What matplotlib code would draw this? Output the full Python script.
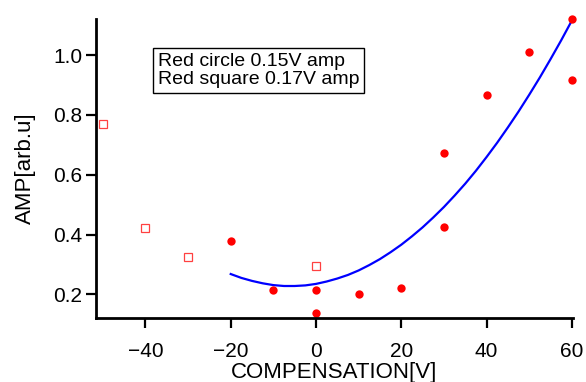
import numpy as np
import matplotlib
matplotlib.use('Agg')
import matplotlib.pyplot as plt

plt.rcParams['font.family'] = ['Liberation Sans', 'DejaVu Sans']

# open squares (0.17V amp)
sq_x = [-50, -40, -30, 0]
sq_y = [0.771, 0.422, 0.325, 0.295]

# filled circles (0.15V amp)
circ_x = [-20, -10, 0, 0, 10, 20, 30, 30, 40, 50, 60, 60]
circ_y = [0.378, 0.216, 0.216, 0.139, 0.200, 0.221, 0.425, 0.672, 0.865, 1.009, 1.120, 0.916]

# blue fit curve
fit_x = [-20, -17.5, -15, -12.5, -10, -7.5, -5, -2.5, 0, 2.5, 5, 7.5, 10, 12.5,
         15, 17.5, 20, 22.5, 25, 27.5, 30, 32.5, 35, 37.5, 40, 42.5, 45, 47.5,
         50, 52.5, 55, 57.5, 60]
fit_y = [0.268, 0.255, 0.245, 0.237, 0.231, 0.228, 0.228, 0.230, 0.235, 0.243,
         0.253, 0.265, 0.280, 0.298, 0.318, 0.341, 0.366, 0.394, 0.424, 0.457,
         0.492, 0.530, 0.570, 0.613, 0.659, 0.707, 0.758, 0.811, 0.867, 0.925,
         0.986, 1.049, 1.115]

x_ticks = [-40, -20, 0, 20, 40, 60]
y_ticks = [0.2, 0.4, 0.6, 0.8, 1.0]

fig = plt.figure(figsize=(5.86, 3.82), dpi=100)
ax = fig.add_axes([0.1638, 0.1675, 0.8142, 0.7825])

ax.plot(fit_x, fit_y, color='#0000ff', lw=1.6)
ax.plot(circ_x, circ_y, 'o', color='#ff0000', ms=6, mec='none', clip_on=False)
ax.plot(sq_x, sq_y, 's', mfc='none', mec='#ff4040', ms=6, mew=0.9, clip_on=False)

ax.set_xlim(-51.6, 60.3)
ax.set_ylim(0.121, 1.12)
ax.set_xticks(x_ticks)
ax.set_yticks(y_ticks)
ax.set_xticklabels(['\u221240', '\u221220', '0', '20', '40', '60'])
ax.set_yticklabels(['0.2', '0.4', '0.6', '0.8', '1.0'])

for s in ['top', 'right']:
    ax.spines[s].set_visible(False)
for s in ['left', 'bottom']:
    ax.spines[s].set_linewidth(2)
ax.tick_params(direction='out', length=7, width=1.6, labelsize=15)
ax.tick_params(axis='x', pad=10)
ax.tick_params(axis='y', pad=3)

ax.set_xlabel('COMPENSATION[V]', fontsize=16, labelpad=1)
ax.set_ylabel('AMP[arb.u]', fontsize=16, labelpad=12)

ax.text(-37.1, 1.007, 'Red circle 0.15V amp\nRed square 0.17V amp', fontsize=14,
        va='top', ha='left', linespacing=1.12,
        bbox=dict(boxstyle='square,pad=0.25', fc='white', ec='black', lw=1))

fig.savefig('out.png', dpi=100)
